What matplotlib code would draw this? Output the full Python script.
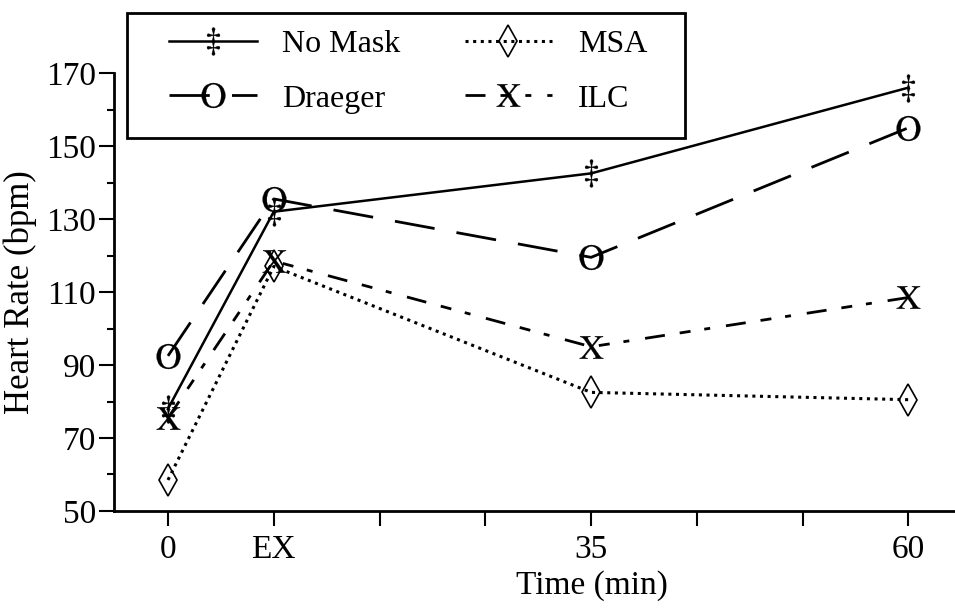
import matplotlib
matplotlib.use("Agg")
import matplotlib.pyplot as plt
from matplotlib.patches import Rectangle

plt.rcParams['font.family'] = 'Liberation Serif'
plt.rcParams['mathtext.fontset'] = 'stix'
plt.rcParams['lines.scale_dashes'] = False

# data
times = ['0', 'EX', '35', '60']
x_pos = [0, 1, 4, 7]
no_mask = [78, 132, 142.5, 166]
draeger = [92.5, 135.5, 119.5, 155]
msa = [58.5, 117, 82.5, 80.5]
ilc = [75.5, 118.5, 95, 108.5]

fig = plt.figure(figsize=(9.55, 6.1), dpi=100)
ax = fig.add_axes([0.1194, 0.1623, 0.8806, 0.718])

ax.plot(x_pos, no_mask, color='black', lw=1.8, marker=r'$\ddagger$', ms=20,
        mew=0.3, label='No Mask')
ax.plot(x_pos, draeger, color='black', lw=2, ls=(0, (29, 16)),
        marker=r'$\mathrm{O}$', ms=18, mew=0.2, label='Draeger')
ax.plot(x_pos, msa, color='black', lw=2.2, ls=(0, (2.2, 3.3)),
        marker='d', ms=16, mfc='none', mew=1.2, label='MSA')
ax.plot(x_pos, ilc, color='black', lw=2, ls=(0, (14.4, 10.8, 7.9, 10, 4.3, 11.5)),
        marker=r'$\mathrm{X}$', ms=17, mew=0.2, label='ILC')

ax.set_xlim(-0.51, 7.44)
ax.set_ylim(50, 170)
tick_labels = ['', '', '', '', '', '', '', '']
for t, p in zip(times, x_pos):
    tick_labels[p] = t
ax.set_xticks(range(8))
ax.set_xticklabels(tick_labels)
ax.set_yticks(range(50, 171, 20))
ax.set_yticks(range(60, 170, 20), minor=True)
ax.tick_params(axis='both', which='major', direction='out', length=11, width=1.5,
               labelsize=24, color='black')
ax.tick_params(axis='x', pad=6)
ax.tick_params(axis='y', pad=2)
ax.tick_params(axis='y', which='minor', direction='out', length=5, width=1.5)

for s in ['top', 'right']:
    ax.spines[s].set_visible(False)
for s in ['left', 'bottom']:
    ax.spines[s].set_linewidth(2)

ax.set_xlabel('Time (min)', fontsize=24)
ax.xaxis.set_label_coords(0.568, -0.135)
ax.set_ylabel('Heart Rate (bpm)', fontsize=25)
ax.yaxis.set_label_coords(-0.091, 0.5)

# legend without its own frame, the box is drawn separately
leg = ax.legend(ncol=2, loc='upper left', bbox_to_anchor=(169 / 955, 1 - 30 / 610),
                bbox_transform=fig.transFigure, borderaxespad=0, borderpad=0,
                fontsize=23, handlelength=2.75, handletextpad=0.8,
                columnspacing=2.0, labelspacing=0.78, frameon=False)
fig.patches.append(Rectangle((127 / 955, 1 - 138 / 610), 558 / 955, 125 / 610,
                             transform=fig.transFigure, fill=False,
                             edgecolor='black', lw=2))

fig.savefig('out.png', dpi=100)
